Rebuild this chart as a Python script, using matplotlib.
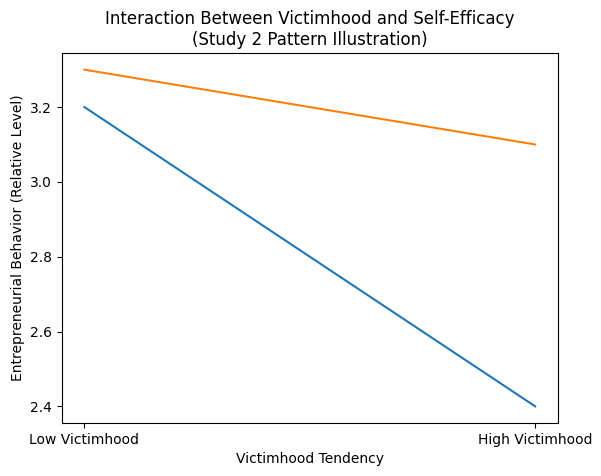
import matplotlib
matplotlib.use("Agg")
import matplotlib.pyplot as plt

# Niveles de victimizacion
categories = ["Low Victimhood", "High Victimhood"]
# Dos series: baja y alta autoeficacia
low_efficacy = [3.2, 2.4]
high_efficacy = [3.3, 3.1]

fig = plt.figure(figsize=(6.01, 4.76), dpi=100)
ax = fig.add_axes([0.103, 0.111, 0.825, 0.778])

ax.plot(categories, low_efficacy)
ax.plot(categories, high_efficacy)

ax.set_title("Interaction Between Victimhood and Self-Efficacy\n(Study 2 Pattern Illustration)")
ax.set_xlabel("Victimhood Tendency")
ax.set_ylabel("Entrepreneurial Behavior (Relative Level)")

fig.savefig("out.png", dpi=100)
